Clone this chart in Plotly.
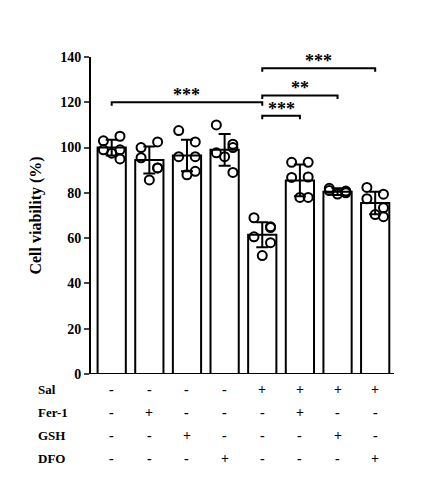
import plotly.graph_objects as go

# bar means, SD and the individual points
means = [100, 94.5, 96.5, 99, 61.5, 85.5, 80.5, 75.5]
sds = [3.5, 6, 7, 7, 5.5, 7, 1.5, 5]
points = [
    [103, 105, 99, 99, 97.5, 95],
    [100, 102.5, 95.5, 91, 85.7, 91],
    [107.5, 102.5, 96, 96, 88, 89.5],
    [110, 101.5, 97.7, 100, 96, 89],
    [69, 65, 60.6, 58, 52.3, 64.7],
    [93.5, 93.5, 86.8, 87, 78, 78],
    [82, 80.5, 81, 80, 79.5, 80.8],
    [82.4, 79.4, 77.4, 73.4, 70.4, 69.5],
]
row_labels = ["Sal", "Fer-1", "GSH", "DFO"]
table = [
    ["-", "-", "-", "-", "+", "+", "+", "+"],
    ["-", "+", "-", "-", "-", "+", "-", "-"],
    ["-", "-", "+", "-", "-", "-", "+", "-"],
    ["-", "-", "-", "+", "-", "-", "-", "+"],
]
# brackets: (from bar, to bar, height, label)
brackets = [(0, 4, 120, "***"), (4, 5, 114, "***"), (4, 6, 123, "**"), (4, 7, 135, "***")]

FONT = "Times New Roman, Liberation Serif, serif"
xs = list(range(len(means)))
jitter = [-0.22, 0.22, -0.22, 0.22, 0, 0.22]

fig = go.Figure()
fig.add_trace(go.Bar(
    x=xs, y=means, width=0.75, marker=dict(color="white", line=dict(color="black", width=2)),
    error_y=dict(type="data", array=sds, color="black", thickness=2, width=6),
))
for i, pts in enumerate(points):
    fig.add_trace(go.Scatter(
        x=[i + jitter[k] for k in range(len(pts))], y=pts, mode="markers",
        marker=dict(symbol="circle-open", size=9, color="black", line=dict(width=2)),
    ))

for a, b, h, lab in brackets:
    fig.add_trace(go.Scatter(x=[a, a, b, b], y=[h - 1.5, h, h, h - 1.5], mode="lines",
                             line=dict(color="black", width=2)))
    fig.add_annotation(x=(a + b) / 2, y=h, text="<b>" + lab + "</b>", showarrow=False,
                       yanchor="bottom", yshift=-5, font=dict(family=FONT, size=18, color="black"))

row_y = [-0.079, -0.151, -0.224, -0.297]
for r, lab in enumerate(row_labels):
    fig.add_annotation(x=-0.18, xref="paper", y=row_y[r], yref="paper", text="<b>" + lab + "</b>",
                       showarrow=False, xanchor="left", font=dict(family=FONT, size=13, color="black"))
    for i, s in enumerate(table[r]):
        fig.add_annotation(x=i, y=row_y[r], yref="paper", text="<b>" + s + "</b>", showarrow=False,
                           font=dict(family=FONT, size=14, color="black"))

fig.update_layout(
    width=424, height=488, showlegend=False, plot_bgcolor="white", paper_bgcolor="white",
    margin=dict(l=83, r=38, t=49, b=122), bargap=0.2,
)
fig.update_xaxes(range=[-0.55, 7.5], showticklabels=False, showline=False, showgrid=False, zeroline=False)
fig.update_yaxes(range=[0, 140], dtick=20, showgrid=False, zeroline=False, showline=True,
                 linecolor="black", linewidth=2, ticks="outside", ticklen=5, tickwidth=2,
                 tickfont=dict(family=FONT, size=14, color="black"), tickprefix="<b>", ticksuffix="</b>",
                 title=dict(text="<b>Cell viability (%)</b>", font=dict(family=FONT, size=16, color="black")))
fig.add_shape(type="line", xref="paper", yref="y", x0=0, x1=1, y0=0, y1=0, line=dict(color="black", width=2))

fig.write_html("out.html")
